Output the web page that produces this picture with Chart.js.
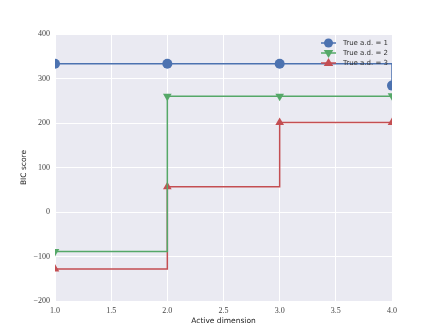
<!DOCTYPE html>
<html>
<head>
<meta charset="utf-8">
<script src="https://cdn.jsdelivr.net/npm/chart.js@4/dist/chart.umd.min.js"></script>
<style>
  html, body { margin: 0; padding: 0; background: #fff; }
  #wrap { width: 436px; height: 336px; }
</style>
</head>
<body>
<div id="wrap"><canvas id="bicChart"></canvas></div>
<script>
// values
const dims = [1, 2, 3, 4];
const ad1 = [333, 333, 333, 284];
const ad2 = [-89, 260, 260, 261];
const ad3 = [-128, 57, 201, 201];
const seriesNames = ['True a.d. = 1', 'True a.d. = 2', 'True a.d. = 3'];
const xTicks = [1, 1.5, 2, 2.5, 3, 3.5, 4];
const yTicks = [-200, -100, 0, 100, 200, 300, 400];

const colors = ['#4C72B0', '#55A868', '#C44E52'];

function pts(ys) {
  return dims.map((d, i) => ({ x: d, y: ys[i] }));
}

function mkSet(label, ys, color, style, rot) {
  return {
    label: label,
    data: pts(ys),
    borderColor: color,
    backgroundColor: color,
    borderWidth: 1.5,
    stepped: 'before',
    pointStyle: style,
    rotation: rot,
    pointRadius: 5,
    pointBorderWidth: 0,
    pointHoverRadius: 5,
    clip: 0
  };
}

// plot background
const bgPlugin = {
  id: 'bg',
  beforeDraw(chart) {
    const a = chart.chartArea, c = chart.ctx;
    c.save();
    c.fillStyle = '#EAEAF2';
    c.fillRect(a.left, a.top, a.right - a.left, a.bottom - a.top);
    c.restore();
  }
};

// matplotlib style legend: line through marker, no frame
const legendPlugin = {
  id: 'mplLegend',
  afterDraw(chart) {
    const c = chart.ctx;
    const a = chart.chartArea;
    let y = a.top + 9;
    chart.data.datasets.forEach(ds => {
      const x0 = a.right - 71, x1 = a.right - 56, xm = (x0 + x1) / 2;
      c.save();
      c.strokeStyle = ds.borderColor;
      c.lineWidth = 1.5;
      c.beginPath(); c.moveTo(x0, y); c.lineTo(x1, y); c.stroke();
      c.fillStyle = ds.borderColor;
      c.beginPath();
      if (ds.pointStyle === 'circle') {
        c.arc(xm, y, 4.5, 0, Math.PI * 2);
      } else {
        const s = ds.rotation === 180 ? -1 : 1;
        const r = 5;
        c.moveTo(xm, y - s * r);
        c.lineTo(xm - r * 0.95, y + s * r * 0.6);
        c.lineTo(xm + r * 0.95, y + s * r * 0.6);
        c.closePath();
      }
      c.fill();
      c.fillStyle = '#333';
      c.font = '7px "DejaVu Sans"';
      c.textBaseline = 'middle';
      c.fillText(ds.label, a.right - 49, y);
      c.restore();
      y += 10;
    });
  }
};

const ctx = document.getElementById('bicChart').getContext('2d');

const myChart = new Chart(ctx, {
  type: 'line',
  data: {
    datasets: [
      mkSet(seriesNames[0], ad1, colors[0], 'circle', 0),
      mkSet(seriesNames[1], ad2, colors[1], 'triangle', 180),
      mkSet(seriesNames[2], ad3, colors[2], 'triangle', 0)
    ]
  },
  options: {
    responsive: true,
    maintainAspectRatio: false,
    animation: false,
    layout: { padding: { left: 20, right: 44, top: 34, bottom: 10 } },
    plugins: {
      legend: { display: false },
      tooltip: { enabled: false }
    },
    scales: {
      x: {
        type: 'linear',
        min: 1,
        max: 4,
        afterBuildTicks(s) { s.ticks = xTicks.map(v => ({ value: v })); },
        afterFit(s) { s.height = 25; },
        grid: { color: '#ffffff', lineWidth: 1, drawTicks: false },
        border: { display: false },
        ticks: {
          padding: 5,
          color: '#444',
          font: { family: '"Liberation Serif"', size: 8 },
          callback: v => v.toFixed(1)
        },
        title: {
          display: true,
          text: 'Active dimension',
          color: '#222',
          padding: 0,
          font: { family: '"DejaVu Sans"', size: 7.5 }
        }
      },
      y: {
        min: -200,
        max: 400,
        afterBuildTicks(s) { s.ticks = yTicks.map(v => ({ value: v })); },
        afterFit(s) { s.width = 35; },
        grid: { color: '#ffffff', lineWidth: 1, drawTicks: false },
        border: { display: false },
        ticks: {
          padding: 5,
          color: '#444',
          font: { family: '"Liberation Serif"', size: 8 },
          callback: v => (v < 0 ? '\u2212' + Math.abs(v) : String(v))
        },
        title: {
          display: true,
          text: 'BIC score',
          color: '#222',
          padding: 0,
          font: { family: '"DejaVu Sans"', size: 7.5 }
        }
      }
    }
  },
  plugins: [bgPlugin, legendPlugin]
});
</script>
</body>
</html>
